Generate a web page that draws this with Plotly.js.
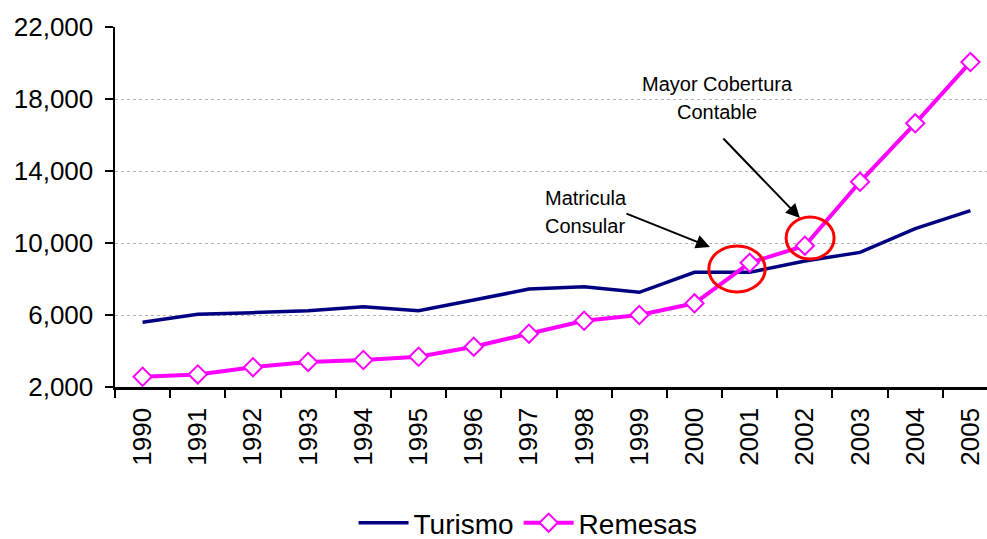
<!DOCTYPE html>
<html>
<head>
<meta charset="utf-8">
<script src="https://cdn.plot.ly/plotly-3.0.1.min.js"></script>
<style>html,body{margin:0;padding:0;background:#fff;}#chart{width:987px;height:539px;}</style>
</head>
<body>
<div id="chart"></div>
<script>
const years = ["1990","1991","1992","1993","1994","1995","1996","1997","1998","1999","2000","2001","2002","2003","2004","2005"];
const turismo = [5600, 6040, 6130, 6240, 6460, 6240, 6830, 7440, 7570, 7260, 8370, 8370, 9000, 9480, 10800, 11800];
const remesas = [2570, 2700, 3100, 3390, 3500, 3680, 4240, 4960, 5680, 6000, 6650, 8900, 9850, 13400, 16650, 20050];
const yTicks = [2000, 6000, 10000, 14000, 18000, 22000];

const FONT = "Liberation Sans, Arial, sans-serif";
const py = (p) => (387 - p) / 360;
const px = (p) => (p - 115) / 872;

const traces = [
  {
    x: years, y: turismo, name: "Turismo", type: "scatter", mode: "lines",
    line: {color: "#000080", width: 3.5}
  },
  {
    x: years, y: remesas, name: "Remesas", type: "scatter", mode: "lines+markers",
    line: {color: "#FF00FF", width: 4},
    marker: {symbol: "diamond", size: 14, color: "#FFFFFF", line: {color: "#FF00FF", width: 2}}
  }
];

const layout = {
  width: 987, height: 539,
  margin: {l: 115, r: 0, t: 27, b: 152, autoexpand: false},
  paper_bgcolor: "#fff", plot_bgcolor: "#fff",
  font: {family: FONT, color: "#000"},
  showlegend: true,
  legend: {
    orientation: "h", xref: "container", yref: "container",
    x: 0.535, xanchor: "center", y: 16 / 539, yanchor: "middle",
    font: {size: 28, family: FONT, color: "#000"}, itemwidth: 50, tracegroupgap: 0
  },
  xaxis: {
    type: "category", range: [-0.5, 15.3],
    showline: true, linecolor: "#000", linewidth: 2.5,
    ticks: "outside", ticklen: 8, tickwidth: 2, tickcolor: "#000",
    tickson: "boundaries", tickangle: -90, ticklabelstandoff: 8,
    tickfont: {size: 26, family: FONT, color: "#000"},
    showgrid: false, zeroline: false, fixedrange: true
  },
  yaxis: {
    range: [2000, 22000], tickvals: yTicks, tickformat: ",",
    showline: true, linecolor: "#000", linewidth: 2.5,
    ticks: "outside", ticklen: 8, tickwidth: 2, tickcolor: "#000",
    ticklabelstandoff: 6,
    tickfont: {size: 26, family: FONT, color: "#000"},
    showgrid: true, gridcolor: "#b0b0b0", gridwidth: 1, griddash: "dot",
    zeroline: false, fixedrange: true
  },
  shapes: [
    {type: "circle", xref: "x", yref: "y", x0: 10.26, x1: 11.28, y0: 7280, y1: 9840,
     line: {color: "#FF0000", width: 3}},
    {type: "circle", xref: "x", yref: "y", x0: 11.66, x1: 12.53, y0: 9110, y1: 11450,
     line: {color: "#FF0000", width: 3}}
  ],
  annotations: [
    {xref: "paper", yref: "paper", x: px(717), y: py(84), text: "Mayor Cobertura",
     showarrow: false, xanchor: "center", yanchor: "middle", font: {size: 20, family: FONT, color: "#000"}},
    {xref: "paper", yref: "paper", x: px(717), y: py(112), text: "Contable",
     showarrow: false, xanchor: "center", yanchor: "middle", font: {size: 20, family: FONT, color: "#000"}},
    {xref: "paper", yref: "paper", x: px(543), y: py(198), text: "Matricula",
     showarrow: false, xanchor: "left", yanchor: "middle", font: {size: 20, family: FONT, color: "#000"}},
    {xref: "paper", yref: "paper", x: px(543), y: py(226), text: "Consular",
     showarrow: false, xanchor: "left", yanchor: "middle", font: {size: 20, family: FONT, color: "#000"}},
    {xref: "x", yref: "y", x: 10.28, y: 9780, ax: -85, ay: -34, text: "",
     showarrow: true, arrowhead: 2, arrowsize: 1.4, arrowwidth: 2, arrowcolor: "#000"},
    {xref: "x", yref: "y", x: 11.91, y: 11390, ax: -78, ay: -81, text: "",
     showarrow: true, arrowhead: 2, arrowsize: 1.4, arrowwidth: 2, arrowcolor: "#000"}
  ]
};

Plotly.newPlot("chart", traces, layout, {displayModeBar: false, staticPlot: true});
</script>
</body>
</html>
